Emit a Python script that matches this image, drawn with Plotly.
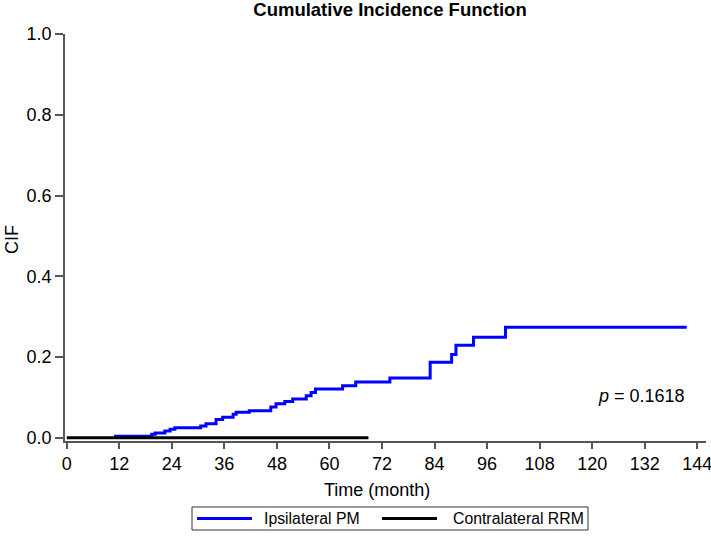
import plotly.graph_objects as go

# Ipsilateral PM cumulative incidence (step function)
ipsi_time = [10.8, 19.4, 20.2, 22.4, 23.6, 24.7, 30.6, 31.8, 34.1, 35.6, 38.0, 38.7,
             41.7, 46.6, 47.8, 49.8, 51.6, 54.7, 55.8, 56.8, 63.0, 66.0, 73.8, 83.0,
             87.9, 88.9, 92.9, 100.2, 141.6]
ipsi_cif = [0.004, 0.009, 0.012, 0.017, 0.021, 0.025, 0.029, 0.035, 0.045, 0.051, 0.058,
            0.063, 0.067, 0.076, 0.084, 0.090, 0.096, 0.104, 0.112, 0.121, 0.129, 0.138,
            0.148, 0.187, 0.206, 0.229, 0.249, 0.274, 0.274]

# Contralateral RRM (no events)
contra_time = [0.0, 68.9]
contra_cif = [0.0, 0.0]

series_names = ["Ipsilateral PM", "Contralateral RRM"]
series_colors = ["#0000FF", "#000000"]

x_ticks = [0, 12, 24, 36, 48, 60, 72, 84, 96, 108, 120, 132, 144]
y_ticks = [0.0, 0.2, 0.4, 0.6, 0.8, 1.0]
p_text = "<i>p</i> = 0.1618"

W, H = 711, 536
L, R, T, B = 65, 5, 34, 95
pw, ph = W - L - R, H - T - B

def px_x(px):
    return (px - L) / pw

def px_y(py):
    return (H - B - py) / ph

FONT = "Liberation Sans, Arial, sans-serif"
AX = "#555555"

fig = go.Figure()
fig.add_trace(go.Scatter(x=ipsi_time, y=ipsi_cif, mode="lines", line_shape="hv",
                         line=dict(color=series_colors[0], width=3), name=series_names[0],
                         showlegend=False))
fig.add_trace(go.Scatter(x=contra_time, y=contra_cif, mode="lines",
                         line=dict(color=series_colors[1], width=3), name=series_names[1],
                         showlegend=False))

fig.add_annotation(x=141.7, y=0.103, xref="x", yref="y", text=p_text, showarrow=False,
                   xanchor="right", yanchor="middle", font=dict(size=18, color="#000"))
fig.add_annotation(x=px_x(377), y=px_y(490), xref="paper", yref="paper", text="Time (month)",
                   showarrow=False, xanchor="center", yanchor="middle",
                   font=dict(size=18, color="#000"))
fig.add_annotation(x=px_x(12), y=px_y(240), xref="paper", yref="paper", text="CIF",
                   showarrow=False, xanchor="center", yanchor="middle", textangle=-90,
                   font=dict(size=18, color="#000"))

# legend drawn as a box with line samples
ly = 518.5
fig.add_shape(type="rect", xref="paper", yref="paper", x0=px_x(192), x1=px_x(588),
              y0=px_y(507), y1=px_y(530), line=dict(color="#333", width=1))
for (x0, x1, tx), name, col in zip([(197, 252, 262), (382, 437, 451)], series_names, series_colors):
    fig.add_shape(type="line", xref="paper", yref="paper", x0=px_x(x0), x1=px_x(x1),
                  y0=px_y(ly), y1=px_y(ly), line=dict(color=col, width=3))
    fig.add_annotation(x=px_x(tx), y=px_y(ly), xref="paper", yref="paper", text=name,
                       showarrow=False, xanchor="left", yanchor="middle",
                       font=dict(size=15.8, color="#000"))

fig.update_layout(
    width=W, height=H,
    margin=dict(l=L, r=R, t=T, b=B, autoexpand=False),
    paper_bgcolor="white", plot_bgcolor="white",
    font=dict(family=FONT, color="#000"),
    title=dict(text="<b>Cumulative Incidence Function</b>", x=390 / W, xref="container",
               xanchor="center", y=1 - 10 / H, yref="container", yanchor="middle",
               font=dict(size=18.5, color="#000")),
    showlegend=False,
    xaxis=dict(range=[-0.4, 146.0], tickvals=x_ticks, ticktext=[str(v) for v in x_ticks],
               showgrid=False, zeroline=False, showline=True, linecolor=AX, linewidth=1.5,
               ticks="outside", ticklen=6, tickwidth=1.5, tickcolor=AX, automargin=False,
               ticklabeloverflow="allow", tickfont=dict(size=18, color="#000")),
    yaxis=dict(range=[-0.008, 1.0], tickvals=y_ticks, ticktext=[f"{v:.1f}" for v in y_ticks],
               showgrid=False, zeroline=False, showline=True, linecolor=AX, linewidth=1.5,
               ticks="outside", ticklen=8, tickwidth=1.5, tickcolor=AX, automargin=False,
               ticklabeloverflow="allow", tickfont=dict(size=18, color="#000")),
)

fig.write_html("out.html", config={"displayModeBar": False},
               post_script="document.body.style.margin='0';document.body.style.overflow='hidden';")
